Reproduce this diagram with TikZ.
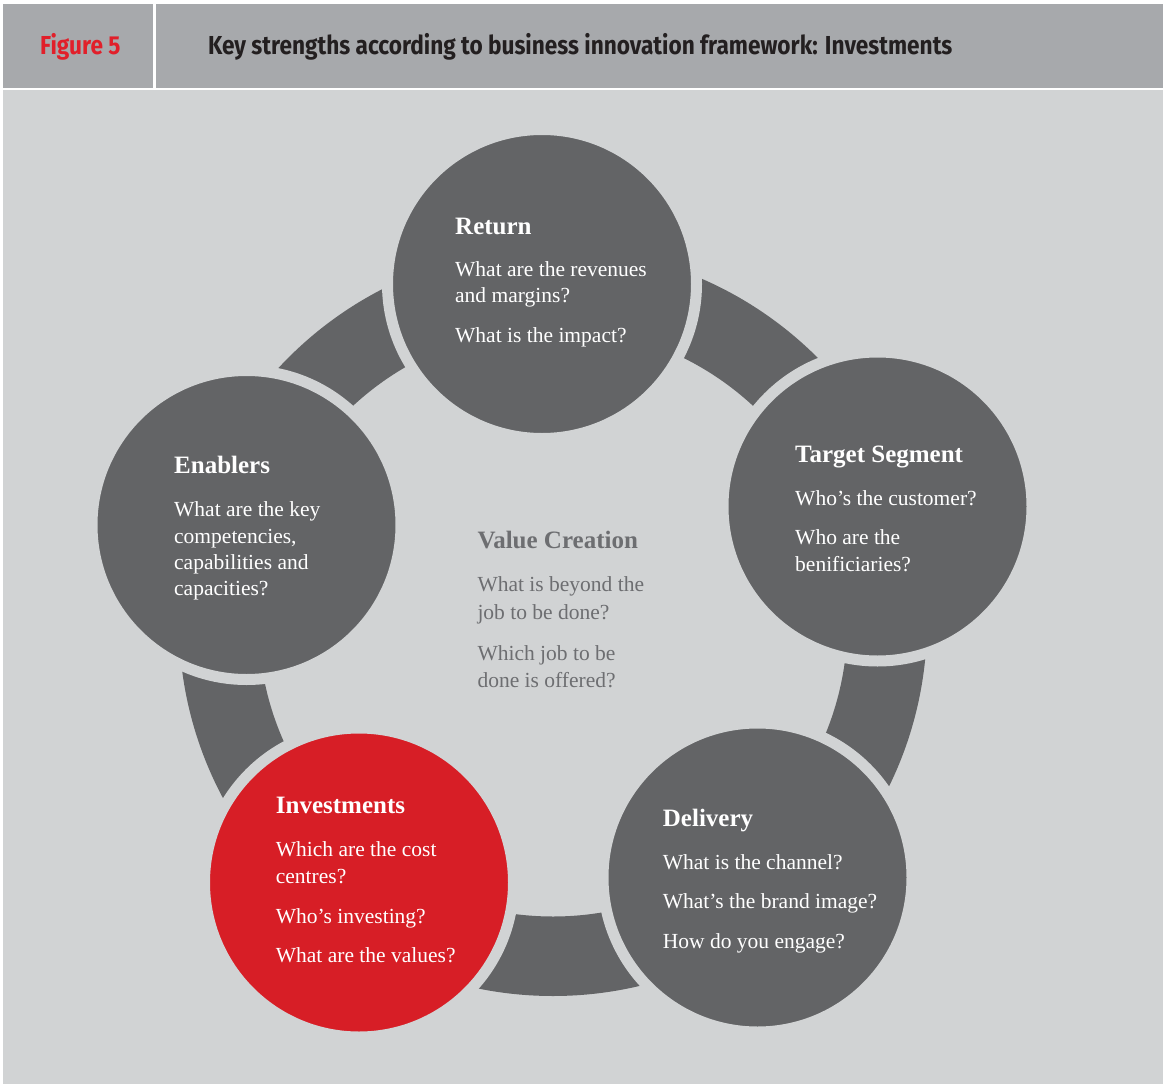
\documentclass[tikz,border=0pt]{standalone}
\usepackage{fontspec}
\setmainfont{Liberation Serif}
\newfontfamily\hdrfont[FakeStretch=0.87]{Fira Sans}
\definecolor{hdrgray}{HTML}{A7A9AC}
\definecolor{bggray}{HTML}{D1D3D4}
\definecolor{dark}{HTML}{636466}
\definecolor{redc}{HTML}{D71E26}
\definecolor{figred}{HTML}{E11F2A}
\definecolor{vcgray}{HTML}{6D6E71}
\definecolor{hdrtext}{HTML}{231F20}
\begin{document}
\begin{tikzpicture}[x=1pt,y=-1pt,
  circ/.style={circle,minimum size=309pt,inner sep=0pt,outer sep=0pt,draw=bggray,line width=11pt},
  ttl/.style={anchor=base west,inner sep=0pt,font=\fontsize{25}{30}\selectfont\bfseries},
  bdy/.style={anchor=base west,inner sep=0pt,font=\fontsize{21.5}{26}\selectfont},
  hdr/.style={anchor=base west,inner sep=0pt,font=\hdrfont\fontsize{26}{30}\selectfont\bfseries}
]
\useasboundingbox (0,0) rectangle (1163,1084);
\fill[white] (0,0) rectangle (1163,1084);
% header
\fill[hdrgray] (3,4) rectangle (153,88);
\fill[hdrgray] (156,4) rectangle (1163,88);
\fill[bggray] (3,90) rectangle (1163,1084);
\node[hdr,text=figred] (fig) at (40,54) {Figure 5};
\node[hdr,text=hdrtext] (title) at (208,54) {Key strengths according to business innovation framework: Investments};
% ring
\fill[dark,even odd rule] (553,622) circle (374pt) (553,622) circle (294.5pt);
% circles
\node[circ,fill=dark] (ret) at (542,284) {};
\node[circ,fill=dark] (tgt) at (877.5,506.5) {};
\node[circ,fill=dark] (del) at (757.5,877.5) {};
\node[circ,fill=redc] (inv) at (359,882.5) {};
\node[circ,fill=dark] (ena) at (246.5,525) {};
% Return
\begin{scope}[text=white]
\node[ttl] (retT) at (455,234) {Return};
\node[bdy] (ret1) at (455,276.7) {What are the revenues};
\node[bdy] (ret2) at (455,302.7) {and margins?};
\node[bdy] (ret3) at (455,342.7) {What is the impact?};
% Target
\node[ttl] (tgtT) at (795,462.7) {Target Segment};
\node[bdy] (tgt1) at (795,505.7) {Who’s the customer?};
\node[bdy] (tgt2) at (795,544.5) {Who are the};
\node[bdy] (tgt3) at (795,571.5) {benificiaries?};
% Enablers
\node[ttl] (enaT) at (174,473.3) {Enablers};
\node[bdy] (ena1) at (174,516.7) {What are the key};
\node[bdy] (ena2) at (174,543.3) {competencies,};
\node[bdy] (ena3) at (174,569.7) {capabilities and};
\node[bdy] (ena4) at (174,595.5) {capacities?};
% Delivery
\node[ttl] (delT) at (662.7,826.7) {Delivery};
\node[bdy] (del1) at (662.7,869.3) {What is the channel?};
\node[bdy] (del2) at (662.7,908.8) {What’s the brand image?};
\node[bdy] (del3) at (662.7,948.3) {How do you engage?};
% Investments
\node[ttl] (invT) at (275.7,813.3) {Investments};
\node[bdy] (inv1) at (275.7,856.7) {Which are the cost};
\node[bdy] (inv2) at (275.7,883.3) {centres?};
\node[bdy] (inv3) at (275.7,923.3) {Who’s investing?};
\node[bdy] (inv4) at (275.7,962.7) {What are the values?};
\end{scope}
% Value creation
\begin{scope}[text=vcgray]
\node[ttl] (vcT) at (477.3,548.3) {Value Creation};
\node[bdy] (vc1) at (477.3,591.7) {What is beyond the};
\node[bdy] (vc2) at (477.3,619.5) {job to be done?};
\node[bdy] (vc3) at (477.3,660) {Which job to be};
\node[bdy] (vc4) at (477.3,687.3) {done is offered?};
\end{scope}
\end{tikzpicture}
\end{document}
